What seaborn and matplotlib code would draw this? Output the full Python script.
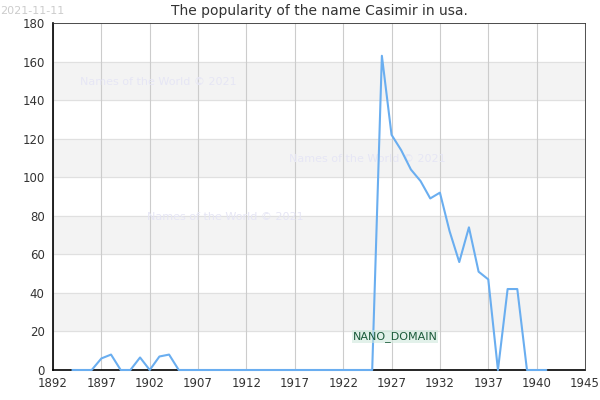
import matplotlib
matplotlib.use("Agg")
import matplotlib.pyplot as plt
import seaborn as sns
import pandas as pd

years = list(range(1894, 1944))
values = [0, 0, 0, 6, 8, 0, 0, 6.5, 0, 7, 8, 0] + [0]*20 + [163, 122, 114, 104, 98, 89, 92, 72, 56, 74, 51, 47, 0, 42, 42, 0, 0, 0]
tick_labels = ["1892", "1897", "1902", "1907", "1912", "1917", "1922", "1927", "1932", "1937", "1940", "1945"]
df = pd.DataFrame({"year": years, "value": values})

sns.set_style("white")
fig = plt.figure(figsize=(6, 4), dpi=100)
ax = fig.add_axes([53/600, 30/400, 532/600, 347/400])
for lo in (20, 60, 100, 140):
    ax.axhspan(lo, lo+20, color="#f3f3f3", zorder=0)
for y in range(20, 181, 20):
    ax.axhline(y, color="#e0e0e0", lw=0.8, zorder=0.5)
ticks = [1892 + 5*i for i in range(len(tick_labels))]
for t in ticks:
    ax.axvline(t, color="#cccccc", lw=0.8, zorder=0.5)
sns.lineplot(data=df, x="year", y="value", ax=ax, color="#6aaef0", lw=1.5, zorder=3, clip_on=False)
ax.set_xlim(1892, 1947)
ax.set_ylim(0, 180)
ax.set_xticks(ticks)
ax.set_xticklabels(tick_labels)
ax.set_yticks(range(0, 181, 20))
ax.tick_params(labelsize=8.5, colors="#333333", length=0)
ax.tick_params(axis="x", pad=5)
ax.tick_params(axis="y", pad=6)
ax.set_xlabel(""); ax.set_ylabel("")
for s in ("top", "right"):
    ax.spines[s].set_color("#333333"); ax.spines[s].set_linewidth(0.6)
for s in ("left", "bottom"):
    ax.spines[s].set_color("black"); ax.spines[s].set_linewidth(1.2)
    ax.spines[s].set_zorder(2)
ax.set_title("The popularity of the name Casimir in usa.", fontsize=10, color="#333333", pad=6)
wm = dict(color="#e6e6f5", fontsize=8, zorder=1)
ax.text(1894.8, 148, "Names of the World © 2021", **wm)
ax.text(1916.4, 108, "Names of the World © 2021", **wm)
ax.text(1901.7, 78, "Names of the World © 2021", **wm)
ax.text(1923, 16, "NANO_DOMAIN", fontsize=8, color="#1a5a3a", zorder=4,
        bbox=dict(facecolor="#cfe8dc", edgecolor="none", pad=0.5, alpha=0.6))
fig.text(0.0, 0.985, "2021-11-11", fontsize=8, color="#cccccc", va="top")
fig.savefig("out.png", dpi=100)
